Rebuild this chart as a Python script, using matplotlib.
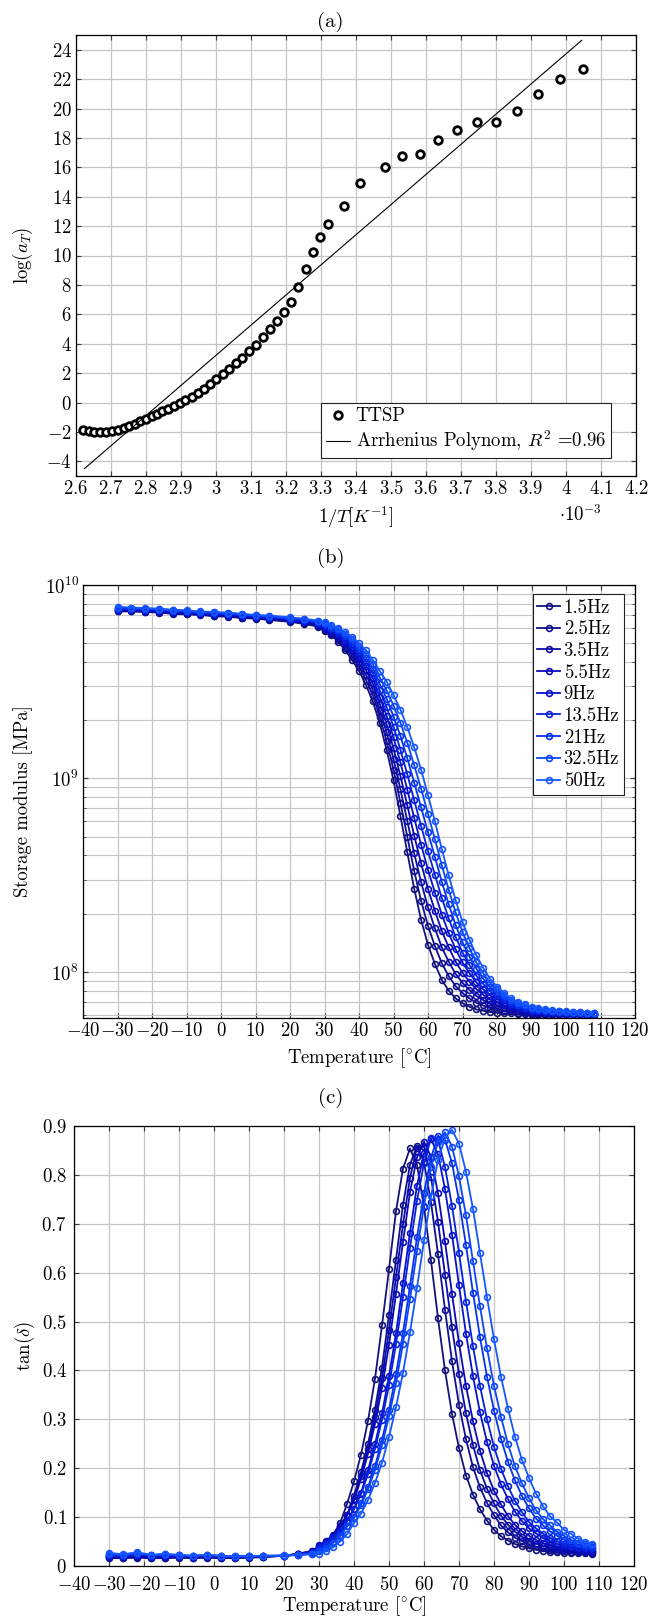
import numpy as np
import matplotlib
matplotlib.use('Agg')
from matplotlib import pyplot as plt
from matplotlib.ticker import MultipleLocator, FuncFormatter, LogLocator, NullFormatter

# LaTeX-like look: Computer Modern shipped with matplotlib
matplotlib.rc('font', family=['cmr10', 'DejaVu Serif'], size=13.5)
matplotlib.rc('mathtext', fontset='cm')
matplotlib.rc('axes', linewidth=0.9, unicode_minus=True)
matplotlib.rcParams['axes.formatter.use_mathtext'] = True
matplotlib.rc('xtick', direction='in', top=True)
matplotlib.rc('ytick', direction='in', right=True)
matplotlib.rc('xtick.major', size=3.5, width=0.8, pad=3)
matplotlib.rc('ytick.major', size=3.5, width=0.8, pad=3)
matplotlib.rc('ytick.minor', size=2, width=0.6)

# ---------------- (a) shift factors ----------------
inv_T = [2.621, 2.636, 2.652, 2.669, 2.687, 2.703, 2.720, 2.737, 2.752, 2.769,
         2.784, 2.800, 2.816, 2.832, 2.847, 2.864, 2.879, 2.896, 2.912, 2.930,
         2.948, 2.965, 2.982, 3.000, 3.019, 3.037, 3.056, 3.075, 3.094, 3.114,
         3.133, 3.153, 3.174, 3.194, 3.214, 3.234, 3.256, 3.276, 3.297, 3.321,
         3.366, 3.412, 3.482, 3.532, 3.583, 3.634, 3.689, 3.745, 3.801, 3.860,
         3.919, 3.982, 4.048]
log_aT = [-1.89, -1.95, -2.02, -2.02, -2.02, -1.95, -1.86, -1.73, -1.59, -1.43,
          -1.27, -1.09, -0.93, -0.80, -0.61, -0.43, -0.25, -0.02, 0.16, 0.39,
          0.66, 0.95, 1.27, 1.59, 1.91, 2.27, 2.66, 3.05, 3.50, 3.93,
          4.43, 5.00, 5.57, 6.16, 6.84, 7.84, 9.09, 10.27, 11.27, 12.14,
          13.36, 14.95, 16.02, 16.77, 16.91, 17.86, 18.55, 19.11, 19.11, 19.86,
          21.00, 22.00, 22.68]
fit_x = [2.624, 4.045]
fit_y = [-4.5, 24.64]

# ---------------- (b), (c) DMA sweeps ----------------
temps = [-30, -26, -22, -18, -14, -10, -6, -2, 2, 6, 10, 14, 20, 24, 28,
         30, 32, 34, 36, 38, 40, 42, 44, 46, 48, 50, 52, 54, 56, 58, 60, 62, 64, 66, 68,
         70, 72, 74, 76, 78, 80, 82, 84, 86, 88, 90, 92, 94, 96, 98, 100, 102, 104, 106, 108]
freq_labels = ['1.5Hz', '2.5Hz', '3.5Hz', '5.5Hz', '9Hz', '13.5Hz', '21Hz', '32.5Hz', '50Hz']

# storage modulus, in units of 1e9
storage_1p5 = [7.30, 7.30, 7.25, 7.20, 7.10, 7.05, 7.00, 6.90, 6.85, 6.75, 6.70, 6.60, 6.45, 6.30, 6.10,
               5.80, 5.50, 5.10, 4.60, 4.10, 3.60, 3.05, 2.50, 1.93, 1.41, 0.980, 0.640, 0.415, 0.269, 0.186,
               0.138, 0.110, 0.0910, 0.0800, 0.0730, 0.0690, 0.0661, 0.0640, 0.0630, 0.0620,
               0.0615, 0.0610, 0.0610, 0.0605, 0.0605, 0.0600, 0.0600, 0.0600, 0.0600, 0.0600,
               0.0600, 0.0600, 0.0600, 0.0600, 0.0600]
storage_2p5 = [7.35, 7.34, 7.29, 7.24, 7.14, 7.09, 7.04, 6.94, 6.89, 6.79, 6.74, 6.64, 6.49, 6.35, 6.16,
               5.88, 5.59, 5.21, 4.74, 4.26, 3.78, 3.24, 2.70, 2.09, 1.56, 1.11, 0.750, 0.500, 0.332, 0.233,
               0.173, 0.136, 0.111, 0.0951, 0.0845, 0.0778, 0.0730, 0.0693, 0.0671, 0.0651,
               0.0643, 0.0631, 0.0625, 0.0617, 0.0614, 0.0608, 0.0606, 0.0605, 0.0604, 0.0604,
               0.0603, 0.0603, 0.0603, 0.0602, 0.0602]
storage_3p5 = [7.40, 7.39, 7.34, 7.29, 7.19, 7.14, 7.08, 6.99, 6.94, 6.84, 6.78, 6.69, 6.54, 6.40, 6.21,
               5.95, 5.68, 5.33, 4.88, 4.43, 3.95, 3.44, 2.90, 2.25, 1.73, 1.26, 0.879, 0.603, 0.410, 0.291,
               0.216, 0.168, 0.134, 0.113, 0.0977, 0.0879, 0.0807, 0.0752, 0.0715, 0.0684,
               0.0671, 0.0653, 0.0640, 0.0629, 0.0624, 0.0615, 0.0613, 0.0610, 0.0609, 0.0608,
               0.0606, 0.0605, 0.0605, 0.0604, 0.0604]
storage_5p5 = [7.45, 7.43, 7.38, 7.33, 7.23, 7.18, 7.11, 7.03, 6.98, 6.88, 6.81, 6.73, 6.58, 6.45, 6.27,
               6.03, 5.76, 5.44, 5.01, 4.59, 4.13, 3.63, 3.10, 2.44, 1.91, 1.43, 1.03, 0.726, 0.506, 0.364,
               0.269, 0.207, 0.163, 0.134, 0.113, 0.0991, 0.0891, 0.0815, 0.0762, 0.0719,
               0.0699, 0.0674, 0.0655, 0.0641, 0.0633, 0.0623, 0.0619, 0.0615, 0.0613, 0.0611,
               0.0609, 0.0608, 0.0608, 0.0606, 0.0606]
storage_9 = [7.50, 7.48, 7.43, 7.38, 7.28, 7.23, 7.15, 7.08, 7.03, 6.93, 6.85, 6.78, 6.63, 6.50, 6.33,
             6.10, 5.85, 5.55, 5.15, 4.75, 4.30, 3.83, 3.30, 2.64, 2.11, 1.63, 1.21, 0.875, 0.625, 0.455,
             0.337, 0.257, 0.198, 0.159, 0.131, 0.112, 0.0986, 0.0883, 0.0813, 0.0755,
             0.0728, 0.0695, 0.0670, 0.0653, 0.0643, 0.0630, 0.0625, 0.0620, 0.0618, 0.0615,
             0.0613, 0.0610, 0.0610, 0.0608, 0.0608]
storage_13p5 = [7.55, 7.52, 7.47, 7.42, 7.32, 7.27, 7.19, 7.12, 7.07, 6.97, 6.89, 6.82, 6.67, 6.55, 6.38,
                6.18, 5.94, 5.66, 5.29, 4.91, 4.48, 4.02, 3.50, 2.85, 2.34, 1.85, 1.41, 1.05, 0.771, 0.568,
                0.421, 0.318, 0.241, 0.189, 0.152, 0.126, 0.109, 0.0957, 0.0867, 0.0794,
                0.0756, 0.0716, 0.0685, 0.0664, 0.0652, 0.0638, 0.0631, 0.0625, 0.0622, 0.0619,
                0.0616, 0.0613, 0.0613, 0.0609, 0.0609]
storage_21 = [7.60, 7.56, 7.51, 7.46, 7.36, 7.31, 7.23, 7.16, 7.11, 7.01, 6.93, 6.86, 6.71, 6.60, 6.44,
              6.25, 6.03, 5.78, 5.43, 5.08, 4.65, 4.21, 3.70, 3.08, 2.59, 2.09, 1.66, 1.27, 0.951, 0.710,
              0.526, 0.393, 0.292, 0.224, 0.175, 0.142, 0.120, 0.104, 0.0923, 0.0834,
              0.0784, 0.0738, 0.0700, 0.0676, 0.0661, 0.0645, 0.0638, 0.0630, 0.0626, 0.0623,
              0.0619, 0.0615, 0.0615, 0.0611, 0.0611]
storage_32p5 = [7.65, 7.61, 7.56, 7.51, 7.41, 7.36, 7.26, 7.21, 7.16, 7.06, 6.96, 6.91, 6.76, 6.65, 6.49,
                6.33, 6.11, 5.89, 5.56, 5.24, 4.83, 4.41, 3.90, 3.33, 2.86, 2.38, 1.94, 1.53, 1.17, 0.887,
                0.656, 0.485, 0.356, 0.266, 0.203, 0.161, 0.133, 0.112, 0.0984, 0.0876,
                0.0812, 0.0759, 0.0715, 0.0688, 0.0671, 0.0653, 0.0644, 0.0635, 0.0631, 0.0626,
                0.0622, 0.0618, 0.0618, 0.0613, 0.0613]
storage_50 = [7.70, 7.65, 7.60, 7.55, 7.45, 7.40, 7.30, 7.25, 7.20, 7.10, 7.00, 6.95, 6.80, 6.70, 6.55,
              6.40, 6.20, 6.00, 5.70, 5.40, 5.00, 4.60, 4.10, 3.60, 3.17, 2.70, 2.27, 1.84, 1.45, 1.11,
              0.820, 0.600, 0.432, 0.316, 0.235, 0.181, 0.147, 0.122, 0.105, 0.0920,
              0.0840, 0.0780, 0.0730, 0.0700, 0.0680, 0.0660, 0.0650, 0.0640, 0.0635, 0.0630,
              0.0625, 0.0620, 0.0620, 0.0615, 0.0615]

# loss factor tan(delta)
tan_1p5 = [.016, .016, .017, .016, .016, .017, .016, .017, .016, .016, .017, .018, .021, .025, .031,
           .033, .050, .064, .087, .127, .173, .228, .297, .383, .492, .607, .726, .813, .854,
           .820, .735, .625, .507, .400, .311, .241, .185, .146, .116, .093, .074, .061, .052,
           .045, .040, .036, .033, .031, .029, .028, .027, .027, .026, .026, .025]
tan_2p5 = [.018, .017, .018, .017, .017, .018, .017, .018, .017, .017, .018, .019, .021, .025, .030,
           .037, .042, .061, .077, .103, .144, .192, .249, .320, .406, .514, .626, .739, .821, .859,
           .826, .744, .638, .524, .419, .330, .259, .202, .161, .129, .104, .083, .069, .058,
           .051, .044, .040, .036, .033, .031, .030, .029, .028, .028, .027]
tan_3p5 = [.019, .018, .019, .018, .018, .019, .018, .019, .018, .018, .018, .019, .021, .024, .029,
           .041, .048, .061, .081, .104, .138, .185, .239, .305, .384, .482, .591, .699, .794, .856,
           .858, .795, .704, .596, .488, .392, .312, .247, .196, .158, .128, .103, .084, .070,
           .060, .052, .046, .041, .037, .035, .033, .032, .031, .029, .029]
tan_5p5 = [.020, .019, .021, .019, .019, .020, .019, .020, .019, .018, .019, .020, .021, .024, .029,
           .042, .052, .061, .082, .104, .134, .178, .230, .291, .365, .453, .557, .663, .765, .836,
           .868, .837, .762, .664, .557, .456, .368, .296, .236, .190, .154, .126, .102, .084,
           .071, .062, .053, .047, .042, .038, .035, .034, .033, .031, .031]
tan_9 = [.021, .020, .022, .020, .021, .020, .019, .020, .019, .019, .019, .020, .021, .024, .028,
         .039, .047, .059, .070, .093, .117, .149, .196, .249, .312, .388, .476, .579, .682, .778,
         .844, .873, .842, .771, .678, .574, .475, .388, .314, .254, .205, .167, .137, .111,
         .092, .077, .067, .057, .051, .045, .041, .038, .036, .035, .033]
tan_13p5 = [.022, .021, .024, .021, .022, .021, .020, .021, .020, .019, .020, .020, .021, .023, .027,
            .038, .046, .058, .072, .091, .116, .147, .188, .240, .299, .370, .454, .550, .651, .747,
            .824, .875, .872, .816, .737, .641, .541, .449, .368, .300, .244, .199, .163, .133,
            .110, .090, .077, .066, .058, .051, .045, .041, .039, .037, .036]
tan_21 = [.024, .022, .025, .022, .023, .022, .020, .022, .020, .019, .020, .020, .021, .023, .026,
          .032, .040, .050, .064, .081, .101, .128, .161, .204, .258, .319, .392, .477, .573, .672,
          .763, .835, .880, .872, .824, .748, .656, .559, .468, .387, .318, .260, .213, .175,
          .143, .118, .097, .083, .071, .062, .054, .048, .044, .041, .039]
tan_32p5 = [.025, .023, .027, .022, .024, .022, .021, .022, .021, .020, .020, .021, .021, .023, .025,
            .030, .037, .047, .060, .081, .098, .124, .157, .196, .247, .306, .374, .455, .546, .644,
            .737, .817, .867, .887, .858, .797, .717, .623, .531, .445, .369, .305, .249, .204,
            .169, .139, .114, .096, .083, .070, .062, .053, .048, .044, .042]
tan_50 = [.027, .024, .028, .023, .025, .023, .021, .023, .021, .020, .020, .021, .022, .022, .024,
          .025, .030, .038, .050, .065, .088, .107, .135, .170, .211, .264, .325, .395, .478, .569,
          .666, .756, .830, .875, .892, .864, .806, .730, .640, .550, .464, .387, .322, .264,
          .217, .180, .148, .122, .102, .089, .074, .066, .056, .050, .046]

storage_sets = [storage_1p5, storage_2p5, storage_3p5, storage_5p5, storage_9,
                storage_13p5, storage_21, storage_32p5, storage_50]
tan_sets = [tan_1p5, tan_2p5, tan_3p5, tan_5p5, tan_9, tan_13p5, tan_21, tan_32p5, tan_50]

# dark navy -> bright blue
colors = ['#12127a', '#0f0f90', '#0c0ca6', '#0a0abb', '#0812cd', '#0620de',
          '#0632ec', '#0c44f7', '#1656ff']

W, H = 649, 1622
fig = plt.figure(figsize=(W / 100, H / 100), dpi=100)


def axes_px(left, right, top, bottom):
    return fig.add_axes([left / W, 1 - bottom / H, (right - left) / W, (bottom - top) / H])


num_fmt = FuncFormatter(lambda v, p: '$%g$' % round(v, 6))
grid_kw = dict(color='#c6c6c6', lw=0.9)


def common(ax):
    ax.set_axisbelow(True)
    ax.grid(True, which='major', **grid_kw)
    ax.tick_params(which='both', colors='#3a3a3a', labelcolor='black')


# ---- (a)
ax = axes_px(76, 636, 35, 476)
common(ax)
ax.plot(inv_T, log_aT, 'o', ms=5.5, mfc='white', mec='black', mew=2.0, label='TTSP')
ax.plot(fit_x, fit_y, '-', color='black', lw=0.8, label=r'Arrhenius Polynom, $R^2$ =0.96')
ax.set_xlim(2.6, 4.2)
ax.set_ylim(-5, 25)
ax.xaxis.set_major_locator(MultipleLocator(0.1))
ax.yaxis.set_major_locator(MultipleLocator(2))
ax.xaxis.set_major_formatter(num_fmt)
ax.yaxis.set_major_formatter(num_fmt)
ax.set_xlabel(r'$1/T[K^{-1}]$', va='center')
ax.xaxis.set_label_coords(0.5, -0.093)
ax.set_ylabel(r'$\log(a_T)$', va='center')
ax.yaxis.set_label_coords(-0.095, 0.5)
leg = ax.legend(loc='lower right', bbox_to_anchor=(0.955, 0.041), borderaxespad=0,
                fancybox=False, framealpha=1, edgecolor='#222222', handlelength=1.3,
                handletextpad=0.3, labelspacing=0.15, borderpad=0.25)
leg.get_frame().set_linewidth(0.8)
fig.text(580 / W, 1 - 515 / H, r'$\cdot10^{-3}$', ha='center', va='center')
fig.text(330 / W, 1 - 22 / H, '(a)', ha='center', va='center', fontsize=15)

# ---- (b)
ax = axes_px(83, 635, 585, 1018)
common(ax)
ax.grid(True, which='minor', axis='y', color='#c6c6c6', lw=0.8)
for vals, c, lab in zip(storage_sets, colors, freq_labels):
    ax.plot(temps, np.array(vals) * 1e9, '-o', color=c, lw=1.3, ms=4.2, mfc='none', mew=1.2, label=lab)
ax.set_yscale('log')
ax.set_xlim(-40, 120)
ax.set_ylim(5.78e7, 1e10)
ax.xaxis.set_major_locator(MultipleLocator(10))
ax.xaxis.set_major_formatter(num_fmt)
ax.yaxis.set_major_locator(LogLocator(base=10))
ax.yaxis.set_minor_locator(LogLocator(base=10, subs=np.arange(2, 10)))
ax.yaxis.set_minor_formatter(NullFormatter())
ax.set_xlabel(r'Temperature [$^{\circ}$C]', va='center')
ax.xaxis.set_label_coords(0.5, -0.092)
ax.set_ylabel('Storage modulus [MPa]', va='center')
ax.yaxis.set_label_coords(-0.109, 0.5)
leg = ax.legend(loc='upper right', bbox_to_anchor=(0.98, 0.979), borderaxespad=0,
                fancybox=False, framealpha=1, edgecolor='#222222', handlelength=1.2,
                handletextpad=0.2, labelspacing=0.2, borderpad=0.25)
leg.get_frame().set_linewidth(0.8)
fig.text(331 / W, 1 - 558 / H, '(b)', ha='center', va='center', fontsize=15)

# ---- (c)
ax = axes_px(74, 634, 1126, 1566)
common(ax)
for vals, c, lab in zip(tan_sets, colors, freq_labels):
    ax.plot(temps, vals, '-o', color=c, lw=1.3, ms=4.2, mfc='none', mew=1.2, label=lab)
ax.set_xlim(-40, 120)
ax.set_ylim(0, 0.9)
ax.xaxis.set_major_locator(MultipleLocator(10))
ax.yaxis.set_major_locator(MultipleLocator(0.1))
ax.xaxis.set_major_formatter(num_fmt)
ax.yaxis.set_major_formatter(num_fmt)
# a bit more room so the y "0" and the x "-40" don't collide at the corner
ax.tick_params(axis='y', pad=5)
ax.tick_params(axis='x', pad=7)
ax.set_xlabel(r'Temperature [$^{\circ}$C]', va='center')
ax.xaxis.set_label_coords(0.5, -0.091)
ax.set_ylabel(r'$\tan(\delta)$', va='center')
ax.yaxis.set_label_coords(-0.088, 0.5)
fig.text(331 / W, 1 - 1098 / H, '(c)', ha='center', va='center', fontsize=15)

fig.savefig('out.png', dpi=100)
